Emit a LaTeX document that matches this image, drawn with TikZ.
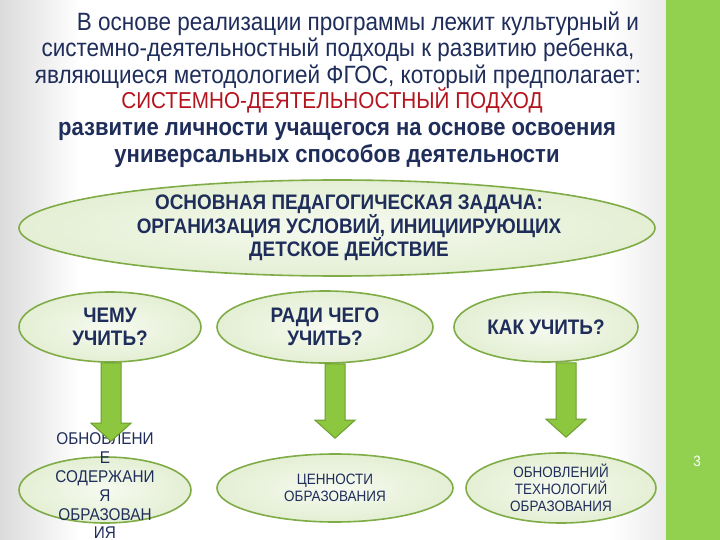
\documentclass[tikz,border=0pt]{standalone}
\usepackage{fontspec}
\setmainfont{Liberation Sans}[FakeStretch=0.9]
\usetikzlibrary{shapes,
	calc,
	positioning}
\definecolor{navy}{RGB}{31,45,90}
\definecolor{darkred}{RGB}{180,20,30}
\definecolor{barGreen}{RGB}{146,208,80}
\definecolor{ellFill}{RGB}{228,239,212}
\definecolor{ellLight}{RGB}{246,250,240}
\definecolor{ellLine}{RGB}{128,172,72}
\definecolor{arrFill}{RGB}{141,198,63}
\definecolor{arrLine}{RGB}{108,158,50}
\tikzstyle{ell}=[ellipse, draw=ellLine, line width=1.6pt, inner color=ellLight,
		outer color=ellFill, inner sep=0, align=center, text=navy]
\tikzstyle{quest}=[ell, font=\fontsize{21}{23}\selectfont\bfseries]
\tikzstyle{result}=[ell, font=\fontsize{15}{17}\selectfont]
\tikzstyle{head}=[align=center, text=navy, inner sep=0]
\tikzstyle{blockarrow}=[draw=arrLine, fill=arrFill, line width=1pt, line join=miter]

\begin{document}
\begin{tikzpicture}[x=1pt, y=-1pt]
            \useasboundingbox (0,0) rectangle (720,540);
            \fill[white] (0,0) rectangle (720,540);
            \shade[left color=black!14, right color=white] (0,0) rectangle (80,540);
            \shade[left color=white, right color=black!8] (610,0) rectangle (666,540);
            \fill[barGreen] (666,0) rectangle (720,540);
            \node[text=white, font=\fontsize{15}{18}\selectfont] (pagenum) at (697,461) {3};

            \node[head, font=\fontsize{25}{26.5}\selectfont] (intro) at (338,50)
                {\hspace*{40pt}В основе реализации программы лежит культурный и\\
                системно-деятельностный подходы к развитию ребенка,\\
                являющиеся методологией ФГОС, который предполагает:};
            \node[head, text=darkred, font=\fontsize{23}{26}\selectfont] (approach) at (332,100)
                {СИСТЕМНО-ДЕЯТЕЛЬНОСТНЫЙ ПОДХОД};
            \node[head, font=\fontsize{24.5}{26.5}\selectfont\bfseries] (goal) at (337,145)
                {развитие личности учащегося на основе освоения\\
                универсальных способов деятельности};

            \node[ell, minimum width=636, minimum height=96,
                font=\fontsize{21}{23.5}\selectfont\bfseries] (task) at (337,228)
                {\hspace*{24pt}ОСНОВНАЯ ПЕДАГОГИЧЕСКАЯ ЗАДАЧА:\\
                \hspace*{24pt}ОРГАНИЗАЦИЯ УСЛОВИЙ, ИНИЦИИРУЮЩИХ\\
                \hspace*{24pt}ДЕТСКОЕ ДЕЙСТВИЕ};

            \node[quest, minimum width=182, minimum height=70] (q1) at (110,327) {ЧЕМУ\\УЧИТЬ?};
            \node[quest, minimum width=216, minimum height=72] (q2) at (325,327) {РАДИ ЧЕГО\\УЧИТЬ?};
            \node[quest, minimum width=184, minimum height=70] (q3) at (546,327) {КАК УЧИТЬ?};

            \node[result, minimum width=172, minimum height=66] (b1) at (105,490) {};
            \node[head, font=\fontsize{17}{18.8}\selectfont] (b1text) at (105,486)
                {ОБНОВЛЕНИ\\Е\\СОДЕРЖАНИ\\Я\\ОБРАЗОВАН\\ИЯ};
            \node[result, minimum width=236, minimum height=68] (b2) at (335,488) {ЦЕННОСТИ\\ОБРАЗОВАНИЯ};
            \node[result, minimum width=190, minimum height=70] (b3) at (561,488)
                {ОБНОВЛЕНИЙ\\ТЕХНОЛОГИЙ\\ОБРАЗОВАНИЯ};

            \foreach \q/\b/\dx in {q1/b1/1, q2/b2/10, q3/b3/20} {
                \coordinate (top) at ([xshift=\dx pt]\q.south);
                \path (top |- \b.north) ++(0,-15) coordinate (tip);
                \draw[blockarrow] ($(top)+(-10,0)$) -- ($(tip)+(-10,-18)$) -- ($(tip)+(-20,-18)$)
                    -- (tip) -- ($(tip)+(20,-18)$) -- ($(tip)+(10,-18)$) -- ($(top)+(10,0)$) -- cycle;
            }
        \end{tikzpicture}
\end{document}
